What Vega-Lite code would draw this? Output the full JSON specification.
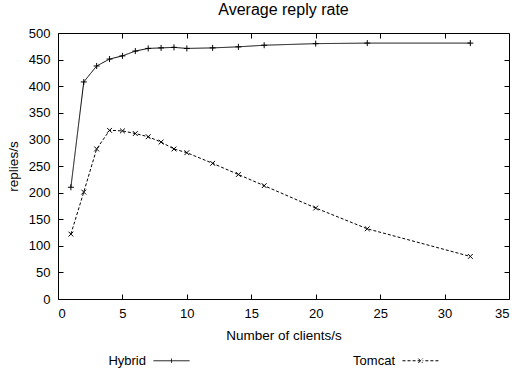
{
  "$schema": "https://vega.github.io/schema/vega-lite/v6.json",
  "width": 451,
  "height": 266,
  "autosize": {"type": "none"},
  "padding": {"left": 58, "top": 33, "right": 8, "bottom": 73},
  "background": "white",
  "title": {"text": "Average reply rate", "fontSize": 16, "font": "Liberation Sans", "fontWeight": "normal", "offset": 9, "anchor": "middle", "color": "black"},
  "config": {
    "view": {"stroke": "black", "strokeWidth": 1},
    "axis": {"grid": false, "domain": false, "tickColor": "black", "tickSize": -5, "tickWidth": 1, "labelFont": "Liberation Sans", "labelFontSize": 13, "labelColor": "black", "titleFont": "Liberation Sans", "titleFontSize": 13.5, "titleFontWeight": "normal", "titleColor": "black"},
    "legend": {"labelFont": "Liberation Sans", "labelFontSize": 13, "labelColor": "black"}
  },
  "data": {"values": [
    {"clients": 1, "rate": 210, "server": "Hybrid"},
    {"clients": 2, "rate": 408, "server": "Hybrid"},
    {"clients": 3, "rate": 438, "server": "Hybrid"},
    {"clients": 4, "rate": 451, "server": "Hybrid"},
    {"clients": 5, "rate": 457, "server": "Hybrid"},
    {"clients": 6, "rate": 466, "server": "Hybrid"},
    {"clients": 7, "rate": 471, "server": "Hybrid"},
    {"clients": 8, "rate": 472, "server": "Hybrid"},
    {"clients": 9, "rate": 473, "server": "Hybrid"},
    {"clients": 10, "rate": 471, "server": "Hybrid"},
    {"clients": 12, "rate": 472, "server": "Hybrid"},
    {"clients": 14, "rate": 474, "server": "Hybrid"},
    {"clients": 16, "rate": 477, "server": "Hybrid"},
    {"clients": 20, "rate": 480, "server": "Hybrid"},
    {"clients": 24, "rate": 481, "server": "Hybrid"},
    {"clients": 32, "rate": 481, "server": "Hybrid"},
    {"clients": 1, "rate": 122, "server": "Tomcat"},
    {"clients": 2, "rate": 201, "server": "Tomcat"},
    {"clients": 3, "rate": 282, "server": "Tomcat"},
    {"clients": 4, "rate": 317, "server": "Tomcat"},
    {"clients": 5, "rate": 316, "server": "Tomcat"},
    {"clients": 6, "rate": 311, "server": "Tomcat"},
    {"clients": 7, "rate": 305, "server": "Tomcat"},
    {"clients": 8, "rate": 295, "server": "Tomcat"},
    {"clients": 9, "rate": 282, "server": "Tomcat"},
    {"clients": 10, "rate": 275, "server": "Tomcat"},
    {"clients": 12, "rate": 255, "server": "Tomcat"},
    {"clients": 14, "rate": 234, "server": "Tomcat"},
    {"clients": 16, "rate": 213, "server": "Tomcat"},
    {"clients": 20, "rate": 171, "server": "Tomcat"},
    {"clients": 24, "rate": 132, "server": "Tomcat"},
    {"clients": 32, "rate": 80, "server": "Tomcat"}
  ]},
  "layer": [
    {
      "mark": {"type": "line", "strokeWidth": 1},
      "encoding": {
        "x": {"field": "clients", "type": "quantitative", "scale": {"domain": [0, 35], "nice": false, "zero": false},
              "axis": {"orient": "bottom", "values": [0, 5, 10, 15, 20, 25, 30, 35], "title": "Number of clients/s", "labelPadding": 13, "titlePadding": 8}},
        "y": {"field": "rate", "type": "quantitative", "scale": {"domain": [0, 500], "nice": false},
              "axis": {"orient": "left", "values": [0, 50, 100, 150, 200, 250, 300, 350, 400, 450, 500], "title": "replies/s", "labelPadding": 13, "titlePadding": 8}},
        "color": {"field": "server", "type": "nominal", "scale": {"domain": ["Hybrid", "Tomcat"], "range": ["black", "black"]},
                  "legend": {"title": null, "orient": "none", "legendX": 95, "legendY": 309, "direction": "horizontal", "symbolSize": 1296, "symbolStrokeWidth": 1, "labelAlign": "right", "labelOffset": -44, "columnPadding": 161,
                             "encode": {"symbols": {"update": {"shape": {"signal": "datum.value === 'Hybrid' ? 'M-1,0L1,0M0,-0.12L0,0.12' : 'M-1,0L-0.83,0M-0.72,0L-0.55,0M-0.44,0L-0.27,0M-0.16,0L0.16,0M0.27,0L0.44,0M0.55,0L0.72,0M0.83,0L1,0M-0.12,-0.12L0.12,0.12M-0.12,0.12L0.12,-0.12'"}, "fill": {"value": "transparent"}}}}}},
        "strokeDash": {"field": "server", "type": "nominal", "scale": {"domain": ["Hybrid", "Tomcat"], "range": [[1, 0], [3, 2]]}, "legend": null}
      }
    },
    {
      "mark": {"type": "point", "filled": false, "strokeWidth": 1, "opacity": 1, "size": 36, "color": "black"},
      "encoding": {
        "x": {"field": "clients", "type": "quantitative",
              "axis": {"orient": "top", "values": [5, 10, 15, 20, 25, 30], "labels": false, "title": null}},
        "y": {"field": "rate", "type": "quantitative",
              "axis": {"orient": "right", "values": [50, 100, 150, 200, 250, 300, 350, 400, 450], "labels": false, "title": null}},
        "shape": {"condition": {"test": "datum.server === 'Hybrid'", "value": "M-1,0H1M0,-1V1"}, "value": "M-0.8,-0.8L0.8,0.8M-0.8,0.8L0.8,-0.8"}
      }
    }
  ]
}
